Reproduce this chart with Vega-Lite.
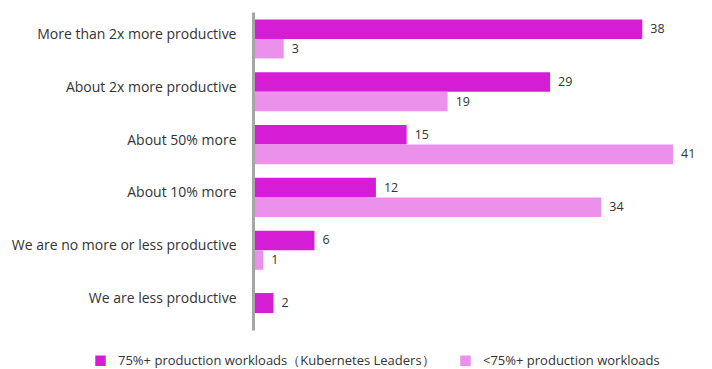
{
  "$schema": "https://vega.github.io/schema/vega-lite/v6.json",
  "width": 420,
  "height": 318,
  "autosize": {"type": "none"},
  "padding": {"left": 253, "top": 12, "right": 39, "bottom": 39},
  "config": {"view": {"stroke": null}, "font": "Open Sans"},
  "data": {
    "values": [
      {"category": "More than 2x more productive", "series": "75%+ production workloads（Kubernetes Leaders）", "value": 38},
      {"category": "More than 2x more productive", "series": "<75%+ production workloads", "value": 3},
      {"category": "About 2x more productive", "series": "75%+ production workloads（Kubernetes Leaders）", "value": 29},
      {"category": "About 2x more productive", "series": "<75%+ production workloads", "value": 19},
      {"category": "About 50% more", "series": "75%+ production workloads（Kubernetes Leaders）", "value": 15},
      {"category": "About 50% more", "series": "<75%+ production workloads", "value": 41},
      {"category": "About 10% more", "series": "75%+ production workloads（Kubernetes Leaders）", "value": 12},
      {"category": "About 10% more", "series": "<75%+ production workloads", "value": 34},
      {"category": "We are no more or less productive", "series": "75%+ production workloads（Kubernetes Leaders）", "value": 6},
      {"category": "We are no more or less productive", "series": "<75%+ production workloads", "value": 1},
      {"category": "We are less productive", "series": "75%+ production workloads（Kubernetes Leaders）", "value": 2}
    ]
  },
  "encoding": {
    "y": {
      "field": "category",
      "type": "nominal",
      "sort": ["More than 2x more productive", "About 2x more productive", "About 50% more", "About 10% more", "We are no more or less productive", "We are less productive"],
      "scale": {"paddingInner": 0.26, "paddingOuter": 0.14},
      "axis": {"title": null, "domainColor": "#a6a6a6", "domainWidth": 3, "ticks": false, "labelPadding": 17, "labelFontSize": 14, "labelColor": "#333333", "labelLimit": 300, "zindex": 1, "labelOffset": -4}
    },
    "x": {"field": "value", "type": "quantitative", "scale": {"domain": [0, 41], "nice": false}, "axis": null},
    "color": {
      "field": "series",
      "type": "nominal",
      "sort": ["75%+ production workloads（Kubernetes Leaders）", "<75%+ production workloads"],
      "scale": {"domain": ["75%+ production workloads（Kubernetes Leaders）", "<75%+ production workloads"], "range": ["#d51dd6", "#eb91eb"]},
      "legend": {"title": null, "orient": "none", "legendX": -159, "legendY": 342, "direction": "horizontal", "symbolType": "square", "symbolSize": 110, "symbolStrokeWidth": 0, "labelFontSize": 13, "labelColor": "#333333", "columnPadding": 24, "labelOffset": 11, "labelLimit": 400}
    }
  },
  "layer": [
    {
      "transform": [{"filter": "datum.category !== 'We are less productive'"}],
      "mark": {"type": "bar"},
      "encoding": {
        "yOffset": {"field": "series", "sort": ["75%+ production workloads（Kubernetes Leaders）", "<75%+ production workloads"], "scale": {"paddingInner": 0, "paddingOuter": 0}}
      }
    },
    {
      "transform": [{"filter": "datum.category === 'We are less productive'"}],
      "mark": {"type": "bar", "size": 20}
    },
    {
      "transform": [{"filter": "datum.category !== 'We are less productive'"}],
      "mark": {"type": "text", "align": "left", "baseline": "middle", "dx": 8, "fontSize": 12.5},
      "encoding": {
        "yOffset": {"field": "series", "sort": ["75%+ production workloads（Kubernetes Leaders）", "<75%+ production workloads"], "scale": {"paddingInner": 0, "paddingOuter": 0}},
        "text": {"field": "value", "type": "quantitative"},
        "color": {"value": "#333333"}
      }
    },
    {
      "transform": [{"filter": "datum.category === 'We are less productive'"}],
      "mark": {"type": "text", "align": "left", "baseline": "middle", "dx": 8, "fontSize": 12.5},
      "encoding": {
        "text": {"field": "value", "type": "quantitative"},
        "color": {"value": "#333333"}
      }
    }
  ]
}
